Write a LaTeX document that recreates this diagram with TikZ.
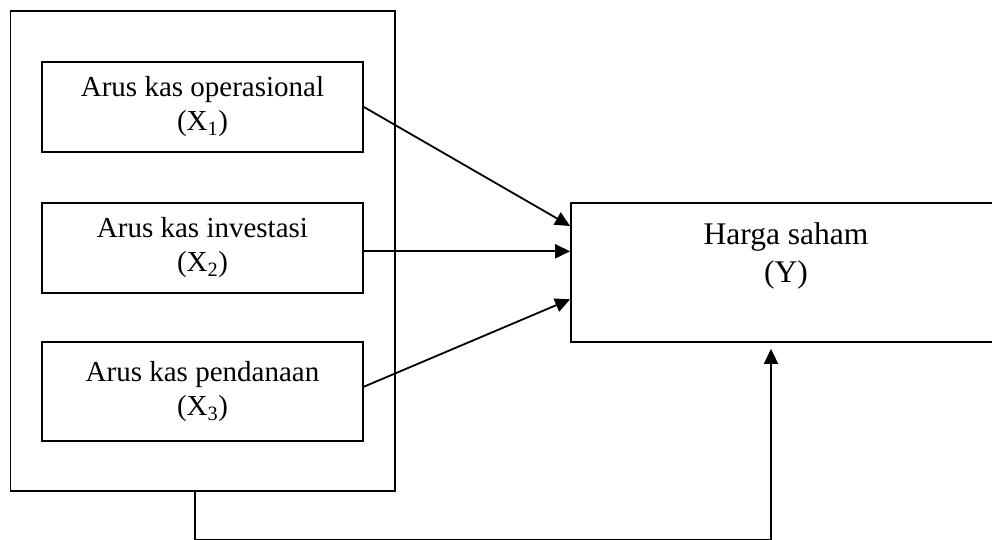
\documentclass[tikz,border=0pt]{standalone}
\usepackage{fontspec}
\setmainfont{Liberation Serif}
\usetikzlibrary{arrows.meta}
\begin{document}
\begin{tikzpicture}[x=1pt,y=-1pt,line width=1.8pt,
  box/.style={draw,rectangle,inner sep=0pt,align=center,font=\fontsize{29}{34}\selectfont},
  conn/.style={-{Triangle[length=15pt,width=14pt]}}]
\useasboundingbox (0,0) rectangle (992,540);
\clip (0,0) rectangle (992,540);
\node[box,minimum width=384.5pt,minimum height=480pt] (outer) at (202.75,251) {};
\node[box,minimum width=321pt,minimum height=90pt] (b1) at (202.5,107) {Arus kas operasional\\(X\textsubscript{1})};
\node[box,minimum width=321pt,minimum height=90pt] (b2) at (202.5,248) {Arus kas investasi\\(X\textsubscript{2})};
\node[box,minimum width=321pt,minimum height=99pt] (b3) at (202.5,391.5) {Arus kas pendanaan\\(X\textsubscript{3})};
\node[draw,rectangle,inner sep=0pt,minimum width=430pt,minimum height=139pt] (y) at (786,272.5) {};
\node[anchor=north,inner sep=0pt,align=center,font=\fontsize{31.5}{38}\selectfont] (ytext) at (786,221.5) {Harga saham\\(Y)};
\draw[conn] (b1.east) -- ([yshift=46.5pt]y.west);
\draw[conn] ([yshift=-3.3pt]b2.east) -- ([yshift=21.2pt]y.west);
\draw[conn] ([yshift=4.8pt]b3.east) -- ([yshift=-26.8pt]y.west);
\draw[conn] ([xshift=-7.75pt]outer.south) -- ++(0,47.5) -| ([xshift=-15pt,yshift=-6pt]y.south);
\end{tikzpicture}
\end{document}
